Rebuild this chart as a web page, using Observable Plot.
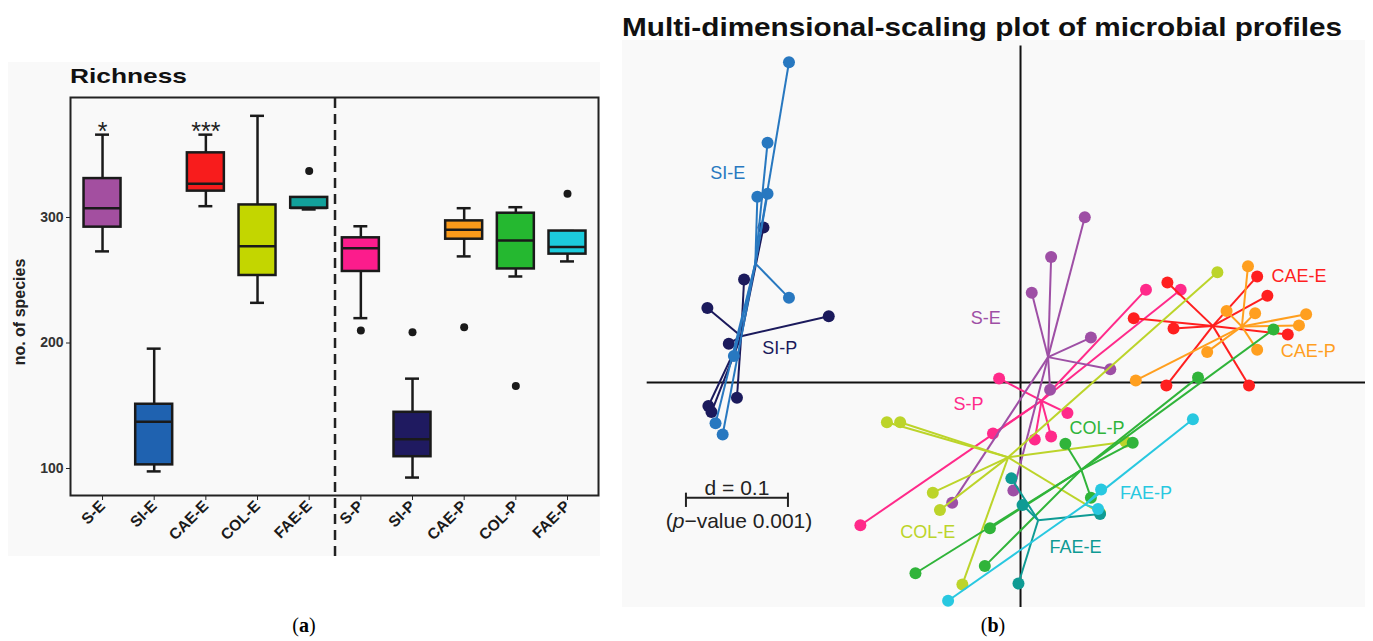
<!DOCTYPE html>
<html><head><meta charset="utf-8">
<script src="https://cdn.jsdelivr.net/npm/d3@7"></script>
<script src="https://cdn.jsdelivr.net/npm/@observablehq/plot@0.6"></script>
<style>
body{margin:0;background:#fff;font-family:"Liberation Sans",Arial,Helvetica,sans-serif;}
#root{position:relative;width:1373px;height:641px;overflow:hidden;background:#fff;}
.abs{position:absolute;white-space:nowrap;line-height:1;}
</style></head><body><div id="root"></div>
<script>
// ---------- Panel (a): richness box plots ----------
const categories = ["S-E","SI-E","CAE-E","COL-E","FAE-E","S-P","SI-P","CAE-P","COL-P","FAE-P"];
const boxColors  = ["#a34fa0","#1f62b0","#f81c1c","#c3d600","#12a19b","#fc1c8c","#1f1a60","#fa9a1a","#25b830","#1ccbdc"];
const lowWhisker  = [273, 97.7, 309, 232, 306.4, 219.8, 92.8, 269, 253, 265];
const q1s         = [292.3, 102.9, 321, 253.8, 307.4, 257, 109.4, 282.7, 259, 270.8];
const medians     = [307.4, 137.3, 326.8, 277, 307.6, 275.5, 123.3, 290.2, 281.7, 276.5];
const q3s         = [331, 151.2, 351.5, 310, 316, 283.8, 144.8, 297.3, 303.4, 289.2];
const highWhisker = [366, 195.5, 366, 381, 316, 293, 171.6, 307.4, 308.2, 289.2];
const outlierGroups = ["FAE-E","S-P","SI-P","CAE-P","COL-P","FAE-P"];
const outlierValues = [337, 210, 208.6, 212.6, 165.7, 318.9];
const sigGroups = ["S-E","CAE-E"];
const sigLabels = ["*","***"];
const yTicksA = [100, 200, 300];

// ---------- Panel (b): MDS coordinates (d units) ----------
const S_E   = [[0.063,0.162],[0.030,0.123],[0.011,0.088],[0.069,0.044],[0.088,0.013],[0.029,-0.007],[-0.007,-0.106],[-0.067,-0.118]];
const SI_E  = [[-0.227,0.314],[-0.248,0.235],[-0.258,0.182],[-0.248,0.185],[-0.227,0.083],[-0.281,0.026],[-0.299,-0.040],[-0.292,-0.051]];
const CAE_E = [[0.144,0.098],[0.232,0.104],[0.242,0.085],[0.111,0.063],[0.150,0.053],[0.262,0.047],[0.143,-0.003],[0.224,-0.003]];
const COL_E = [[0.193,0.108],[-0.131,-0.039],[-0.118,-0.039],[-0.086,-0.108],[-0.079,-0.125],[-0.057,-0.198],[0.078,-0.128],[0.103,-0.058]];
const FAE_E = [[-0.009,-0.094],[0.002,-0.120],[0.078,-0.129],[-0.002,-0.197]];
const S_P   = [[-0.021,0.004],[0.046,-0.030],[0.123,0.091],[0.157,0.091],[-0.027,-0.050],[-0.157,-0.140],[0.014,-0.056],[0.030,-0.053]];
const SI_P  = [[-0.252,0.152],[-0.271,0.101],[-0.307,0.073],[-0.188,0.065],[-0.286,0.038],[-0.278,-0.015],[-0.306,-0.023],[-0.303,-0.029]];
const CAE_P = [[0.223,0.114],[0.202,0.070],[0.230,0.068],[0.280,0.067],[0.273,0.056],[0.183,0.030],[0.232,0.032],[0.113,0.002]];
const COL_P = [[0.248,0.052],[0.174,0.005],[0.044,-0.060],[0.110,-0.059],[0.069,-0.113],[-0.030,-0.143],[-0.035,-0.180],[-0.103,-0.187]];
const FAE_P = [[0.169,-0.036],[0.079,-0.105],[0.076,-0.124],[-0.071,-0.214]];
const mdsGroups = ["S-E","SI-E","CAE-E","COL-E","FAE-E","S-P","SI-P","CAE-P","COL-P","FAE-P"];
const mdsColors = ["#9e4fa5","#2878c0","#ff1f1f","#bcd42a","#0f9b94","#ff2a8a","#1b1a5c","#ff9f1f","#30b43a","#28c8e0"];
const mdsData = [S_E, SI_E, CAE_E, COL_E, FAE_E, S_P, SI_P, CAE_P, COL_P, FAE_P];
const labelX = [-0.034,-0.287,0.273,-0.091,0.054,-0.051,-0.236,0.282,0.075,0.123];
const labelY = [0.063,0.205,0.104,-0.147,-0.162,-0.021,0.034,0.031,-0.045,-0.109];
const drawOrder = ["S-P","SI-P","S-E","SI-E","CAE-E","CAE-P","COL-E","COL-P","FAE-E","FAE-P"];
const scaleBarLength = 0.1;
const scaleBarText = "d = 0.1";
const pValueText = "(p\u2212value 0.001)";

const root = document.getElementById("root");
const FONT = "'Liberation Sans', Arial, Helvetica, sans-serif";

// ---------- build panel (a) ----------
const boxes = categories.map((c, i) => ({i, c, lo: lowWhisker[i], q1: q1s[i], med: medians[i], q3: q3s[i], hi: highWhisker[i], color: boxColors[i]}));
const outliers = outlierGroups.map((g, k) => ({i: categories.indexOf(g), v: outlierValues[k]}));
const sigs = sigGroups.map((g, k) => ({i: categories.indexOf(g), v: highWhisker[categories.indexOf(g)], t: sigLabels[k]}));
const split = categories.findIndex(c => c.endsWith("-P")) - 0.5;
const yDomA = [78.5, 395.6];
const bw = 0.358, cw = 0.135, lw = 2.5, ink = "#1a1a1a";

const plotA = Plot.plot({
  width: 592, height: 494,
  marginLeft: 62, marginTop: 35, marginRight: 2, marginBottom: 61,
  style: {background: "#f9f9f9", fontFamily: FONT, overflow: "visible"},
  x: {type: "linear", domain: [-0.62, 9.6], axis: null},
  y: {domain: yDomA, axis: null},
  color: {type: "identity"},
  marks: [
    Plot.ruleX([split], {y1: 29.9, y2: yDomA[1], stroke: "#222", strokeWidth: 2.5, strokeDasharray: "10,6"}),
    Plot.ruleX(boxes, {x: "i", y1: "lo", y2: "q1", stroke: ink, strokeWidth: lw}),
    Plot.ruleX(boxes, {x: "i", y1: "q3", y2: "hi", stroke: ink, strokeWidth: lw}),
    Plot.ruleY(boxes, {y: "lo", x1: d => d.i - cw, x2: d => d.i + cw, stroke: ink, strokeWidth: lw}),
    Plot.ruleY(boxes, {y: "hi", x1: d => d.i - cw, x2: d => d.i + cw, stroke: ink, strokeWidth: lw}),
    Plot.rect(boxes, {x1: d => d.i - bw, x2: d => d.i + bw, y1: "q1", y2: "q3", fill: "color", stroke: ink, strokeWidth: lw}),
    Plot.ruleY(boxes, {y: "med", x1: d => d.i - bw, x2: d => d.i + bw, stroke: ink, strokeWidth: lw}),
    Plot.dot(outliers, {x: "i", y: "v", r: 4, fill: ink}),
    Plot.text(sigs, {x: "i", y: "v", text: "t", lineAnchor: "bottom", dy: 5, fontSize: 25, fill: "#222"}),
    Plot.axisY({ticks: yTicksA, tickSize: 4, tickPadding: 3, fontSize: 14, fontWeight: "bold", fill: "#333", stroke: "#222", label: null}),
    Plot.axisX({ticks: d3.range(categories.length), tickFormat: i => categories[i], tickSize: 5, tickPadding: 3, tickRotate: -45, fontSize: 15.5, fontWeight: "bold", fill: "#1a1a1a", stroke: "#222", label: null}),
    Plot.frame({stroke: "#222", strokeWidth: 2})
  ]
});
plotA.style.position = "absolute";
plotA.style.left = "8px";
plotA.style.top = "62px";
root.appendChild(plotA);

// ---------- build panel (b) ----------
const xDomB = [-0.3902, 0.3382], yDomB = [-0.2206, 0.3353];
const centroids = new Map(mdsGroups.map((g, k) => [g, {cx: d3.mean(mdsData[k], p => p[0]), cy: d3.mean(mdsData[k], p => p[1])}]));
const groupMarks = drawOrder.flatMap(g => {
  const k = mdsGroups.indexOf(g);
  const c = centroids.get(g);
  const pts = mdsData[k].map(([x, y]) => ({x, y, cx: c.cx, cy: c.cy}));
  return [
    Plot.link(pts, {x1: "x", y1: "y", x2: "cx", y2: "cy", stroke: mdsColors[k], strokeWidth: 2}),
    Plot.dot(pts, {x: "x", y: "y", r: 6, fill: mdsColors[k]})
  ];
});
const labels = mdsGroups.map((g, k) => ({g, x: labelX[k], y: labelY[k], color: mdsColors[k]}));
const barX0 = -0.328, barY = -0.113;
const bar = [{x1: barX0, x2: barX0 + scaleBarLength, y: barY}];

const plotB = Plot.plot({
  width: 743, height: 567,
  marginLeft: 0, marginRight: 0, marginTop: 0, marginBottom: 0,
  style: {background: "#f9f9f9", fontFamily: FONT, overflow: "visible"},
  x: {domain: xDomB, axis: null},
  y: {domain: yDomB, axis: null},
  color: {type: "identity"},
  marks: [
    Plot.ruleY([0], {x1: -0.366, x2: xDomB[1], stroke: "#111", strokeWidth: 2}),
    Plot.ruleX([0], {y1: yDomB[0], y2: 0.330, stroke: "#111", strokeWidth: 2}),
    ...groupMarks,
    Plot.text(labels, {x: "x", y: "y", text: "g", fill: "color", fontSize: 18}),
    Plot.ruleY(bar, {x1: "x1", x2: "x2", y: "y", stroke: "#222", strokeWidth: 2}),
    Plot.ruleX(bar, {x: "x1", y1: d => d.y + 0.0045, y2: d => d.y - 0.0095, stroke: "#222", strokeWidth: 2}),
    Plot.ruleX(bar, {x: "x2", y1: d => d.y + 0.0045, y2: d => d.y - 0.0095, stroke: "#222", strokeWidth: 2}),
    Plot.text(bar, {x: d => (d.x1 + d.x2) / 2, y: "y", text: () => scaleBarText, lineAnchor: "bottom", dy: -3, fontSize: 21, fill: "#222"}),
    Plot.text(bar, {x: d => (d.x1 + d.x2) / 2 + 0.002, y: "y", text: () => pValueText, lineAnchor: "bottom", dy: 30, fontSize: 21, fill: "#222"})
  ]
});
plotB.style.position = "absolute";
plotB.style.left = "622px";
plotB.style.top = "40px";
root.appendChild(plotB);
plotB.querySelectorAll("text").forEach(t => {
  if (t.textContent === pValueText) t.innerHTML = '(<tspan font-style="italic">p</tspan>\u2212value 0.001)';
});

// ---------- HTML texts ----------
function addText(txt, css, html) {
  const d = document.createElement("div");
  d.className = "abs";
  if (html) d.innerHTML = txt; else d.textContent = txt;
  Object.assign(d.style, css);
  root.appendChild(d);
  return d;
}
function fitWidth(el, w) {
  const r = el.getBoundingClientRect().width;
  el.style.transformOrigin = "left top";
  el.style.transform = `scaleX(${w / r})`;
}
const tA = addText("Richness", {left: "70px", top: "65px", fontSize: "21px", fontWeight: "bold", color: "#111"});
fitWidth(tA, 117);
const tB = addText("Multi-dimensional-scaling plot of microbial profiles", {left: "622px", top: "14px", fontSize: "26px", fontWeight: "bold", color: "#111"});
fitWidth(tB, 720);
addText("no. of species", {left: "20px", top: "312px", fontSize: "16px", fontWeight: "bold", color: "#222", transform: "translate(-50%,-50%) rotate(-90deg)"});
addText("(<b>a</b>)", {left: "304px", top: "615px", fontSize: "20px", fontFamily: "'Liberation Serif','Times New Roman',serif", color: "#000", transform: "translateX(-50%)"}, true);
addText("(<b>b</b>)", {left: "993px", top: "615px", fontSize: "20px", fontFamily: "'Liberation Serif','Times New Roman',serif", color: "#000", transform: "translateX(-50%)"}, true);
</script></body></html>
